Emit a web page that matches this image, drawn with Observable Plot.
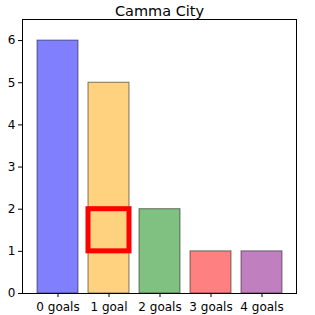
<!DOCTYPE html>
<html>
<head>
<meta charset="utf-8">
<script src="https://cdn.jsdelivr.net/npm/d3@7"></script>
<script src="https://cdn.jsdelivr.net/npm/@observablehq/plot@0.6"></script>
<style>
  html, body { margin: 0; padding: 0; background: #fff; }
</style>
</head>
<body>
<div id="chart"></div>
<script>
const title = "Camma City";
const categories = ["0 goals", "1 goal", "2 goals", "3 goals", "4 goals"];
const counts = [6, 5, 2, 1, 1];
const colors = ["#8080ff", "#ffd280", "#80c080", "#ff8080", "#c080c0"];
const yTicks = [0, 1, 2, 3, 4, 5, 6];
const highlight = [{cat: "1 goal", y1: 1, y2: 2}];

const data = categories.map((c, i) => ({cat: c, value: counts[i], color: colors[i]}));

const chart = Plot.plot({
  width: 315,
  height: 315,
  marginTop: 19,
  marginBottom: 22,
  marginLeft: 22,
  marginRight: 19,
  style: {fontFamily: "DejaVu Sans, sans-serif", fontSize: "12px", color: "#000", background: "#fff"},
  x: {domain: categories, paddingInner: 0.2, paddingOuter: 0.24, label: null},
  y: {domain: [0, 6.5], label: null},
  marks: [
    Plot.barY(data, {x: "cat", y: "value", fill: d => d.color, stroke: "#000", strokeOpacity: 0.5, strokeWidth: 1}),
    Plot.rect(highlight, {x: "cat", y1: "y1", y2: "y2", fill: "none", stroke: "#ff0000", strokeWidth: 5}),
    Plot.frame({stroke: "#000", strokeWidth: 1}),
    Plot.axisY({ticks: yTicks, tickFormat: d3.format("d"), tickSize: 4, tickPadding: 3, label: null, fontSize: 12}),
    Plot.axisX({tickSize: 4, tickPadding: 5, label: null, fontSize: 12}),
    Plot.text([title], {frameAnchor: "top", lineAnchor: "bottom", dy: -4, fontSize: 14.5, fill: "#000"})
  ]
});
document.getElementById("chart").appendChild(chart);
</script>
</body>
</html>
